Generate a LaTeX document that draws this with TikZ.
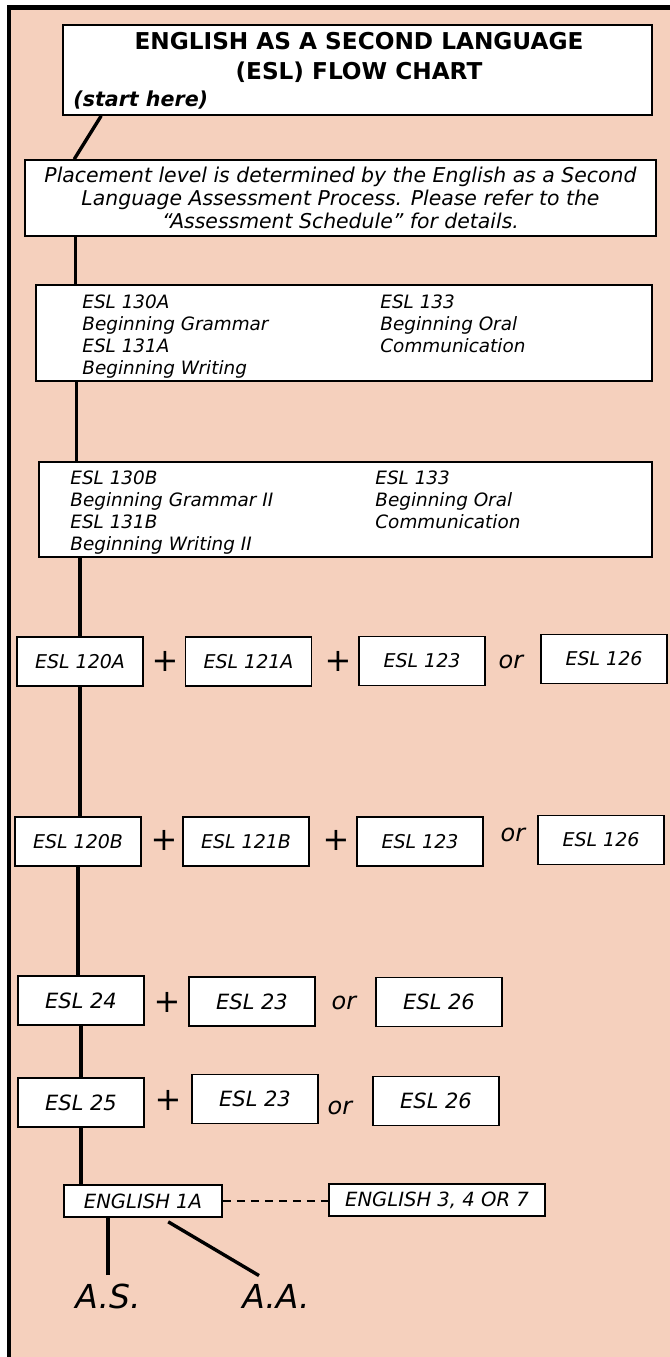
\documentclass[tikz,border=0pt]{standalone}
\usepackage{fontspec}
\setmainfont{DejaVu Sans}
\definecolor{peach}{RGB}{245,208,189}

\begin{document}
\begin{tikzpicture}[x=0.5pt,y=-0.5pt,
    panel/.style={draw=black, line width=0.8pt, fill=white, inner sep=0pt},
    course/.style={panel, minimum width=63pt, minimum height=24.5pt, font=\itshape\fontsize{9.5}{11}\selectfont},
    major/.style={course, font=\itshape\fontsize{10.5}{12}\selectfont},
    listing/.style={anchor=north west, inner sep=0pt, align=left, font=\itshape\fontsize{9.2}{11}\selectfont},
    link/.style={line width=1.7pt},
    sign/.style={inner sep=0pt, font=\itshape\fontsize{16}{16}\selectfont},
    word/.style={inner sep=0pt, font=\itshape\fontsize{12}{12}\selectfont},
    degree/.style={anchor=base, inner sep=4pt, font=\itshape\fontsize{16.5}{16.5}\selectfont}]
      \useasboundingbox (0,0) rectangle (670,1357);
      \fill[peach] (7,5) rectangle (670,1357);
      \draw[line width=2.2pt] (9,1357) -- (9,7.5) -- (670,7.5);

      \node[panel, minimum width=294.5pt, minimum height=45pt] (T) at (357.5,70) {};
      \node[align=center, font=\bfseries\fontsize{11.6}{15}\selectfont] (H) at (359,57) {ENGLISH AS A SECOND LANGUAGE\\(ESL) FLOW CHART};
      \node[anchor=base west, inner sep=0pt, font=\bfseries\itshape\fontsize{10.3}{11}\selectfont] (S) at (73,106) {(start here)};

      \node[panel, minimum width=315.5pt, minimum height=38pt, align=center, font=\itshape\fontsize{10.2}{11.5}\selectfont] (P) at (340.5,198)
        {Placement level is determined by the English as a Second\\Language Assessment Process. Please refer to the\\“Assessment Schedule” for details.};

      \node[panel, minimum width=308pt, minimum height=48pt] (A) at (344,333) {};
      \node[listing] (A1) at (82,294) {ESL 130A\\Beginning Grammar\\ESL 131A\\Beginning Writing};
      \node[listing] (A2) at (380,294) {ESL 133\\Beginning Oral\\Communication};

      \node[panel, minimum width=306.5pt, minimum height=47.5pt] (B) at (345.5,509.5) {};
      \node[listing] (B1) at (70,470) {ESL 130B\\Beginning Grammar II\\ESL 131B\\Beginning Writing II};
      \node[listing] (B2) at (375,470) {ESL 133\\Beginning Oral\\Communication};

      % level 120A
      \node[course] (R1a) at (80,661.5)  {ESL 120A};
      \node[sign]   (P1a) at (165,661)   {+};
      \node[course] (R1b) at (248.5,661.5) {ESL 121A};
      \node[sign]   (P1b) at (338,661)   {+};
      \node[course] (R1c) at (422,661)   {ESL 123};
      \node[word]   (O1)  at (511,662)   {or};
      \node[course] (R1d) at (604,659)   {ESL 126};

      % level 120B
      \node[course] (R2a) at (78,841.5)  {ESL 120B};
      \node[sign]   (P2a) at (164,840)   {+};
      \node[course] (R2b) at (246,841.5) {ESL 121B};
      \node[sign]   (P2b) at (336,840)   {+};
      \node[course] (R2c) at (420,841.5) {ESL 123};
      \node[word]   (O2)  at (513,835)   {or};
      \node[course] (R2d) at (601,840)   {ESL 126};

      % level 24 and 25
      \node[major] (R3a) at (81,1000.5)  {ESL 24};
      \node[sign]  (P3)  at (167,1002)   {+};
      \node[major] (R3b) at (252,1001.5) {ESL 23};
      \node[word]  (O3)  at (344,1003)   {or};
      \node[major] (R3c) at (439,1002)   {ESL 26};

      \node[major] (R4a) at (81,1102.5)  {ESL 25};
      \node[sign]  (P4)  at (168,1100)   {+};
      \node[major] (R4b) at (255,1099)   {ESL 23};
      \node[word]  (O4)  at (340,1108)   {or};
      \node[major] (R4c) at (436,1101)   {ESL 26};

      \node[course, minimum width=79pt, minimum height=16pt, font=\itshape\fontsize{9.8}{11}\selectfont] (E1) at (143,1201) {ENGLISH 1A};
      \node[course, minimum width=108pt, minimum height=16pt, font=\itshape\fontsize{9.8}{11}\selectfont] (E2) at (437,1200) {ENGLISH 3, 4 OR 7};
      \node[degree] (AS) at (108,1308) {A.S.};
      \node[degree] (AA) at (276,1308) {A.A.};

      \draw[link] ([xshift=19.5pt]T.south west) -- ([xshift=25pt]P.north west);
      \draw[link] ([xshift=20pt]A.north west) -- ([xshift=20pt]A.north west |- P.south);
      \draw[link] ([xshift=19pt]B.north west) -- ([xshift=19pt]B.north west |- A.south);
      \draw[link] (R1a.north) -- (R1a.north |- B.south);
      \draw[link] (R1a.south) -- (R1a.south |- R2a.north);
      \draw[link] (R2a.south) -- (R2a.south |- R3a.north);
      \draw[link] (R3a.south) -- (R3a.south |- R4a.north);
      \draw[link] (R4a.south) -- (R4a.south |- E1.north);
      \draw[line width=0.8pt, dash pattern=on 4pt off 3pt] (E1.east) -- (E1.east -| E2.west);
      \draw[link] (AS.north) -- (AS.north |- E1.south);
      \draw[link] ([xshift=52.5pt,yshift=-2pt]E1.south west) -- ([xshift=-8.5pt]AA.north);
    \end{tikzpicture}
\end{document}
